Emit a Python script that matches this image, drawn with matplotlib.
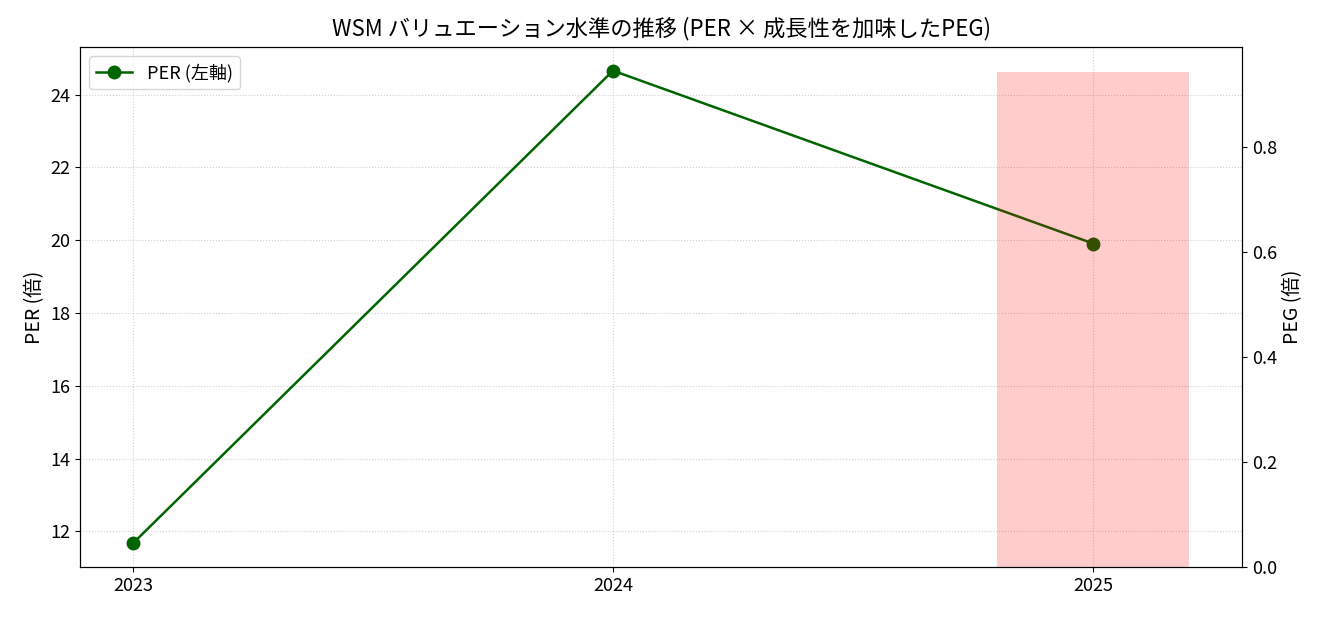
import numpy as np
import matplotlib
matplotlib.use("Agg")
import matplotlib.pyplot as plt

plt.rcParams['font.family'] = ['Noto Sans CJK JP', 'DejaVu Sans']

years = ['2023', '2024', '2025']
per = [11.67, 24.66, 19.91]
peg = [np.nan, np.nan, 0.943]

fig = plt.figure(figsize=(13.3, 6.17), dpi=100)
ax1 = fig.add_axes([0.0602, 0.081, 0.8736, 0.8428])
ax2 = ax1.twinx()

ax1.plot(years, per, color='darkgreen', marker='o', markersize=9, linewidth=1.8, label='PER (左軸)')
ax2.bar(years, peg, width=0.4, color='red', alpha=0.2, label='PEG (右軸)')

ax1.set_ylabel('PER (倍)', fontsize=14)
ax2.set_ylabel('PEG (倍)', fontsize=14)
ax1.set_title('WSM バリュエーション水準の推移 (PER × 成長性を加味したPEG)', fontsize=16, pad=8)
ax1.grid(True, linestyle=':', alpha=0.6)
ax1.tick_params(labelsize=13)
ax2.tick_params(labelsize=13)
ax2.set_ylim(bottom=0)
ax1.legend(loc='upper left', fontsize=13)

fig.savefig('out.png', dpi=100)
